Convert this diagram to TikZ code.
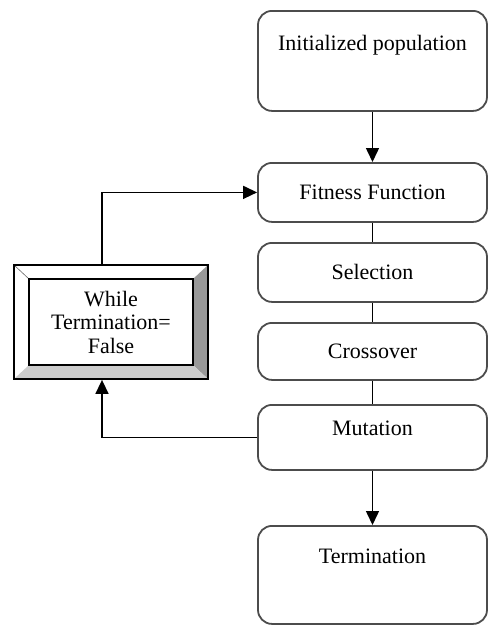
\documentclass[tikz,border=0pt]{standalone}
\usepackage{fontspec}
\setmainfont{Liberation Serif}
\usepackage{tikz}
\usetikzlibrary{arrows.meta}
\tikzset{
    step box/.style={
           rectangle,
           rounded corners=14pt,
           draw=black!70, line width=1.8pt,
           minimum width=229pt,
           minimum height=59pt,
           inner sep=0pt,
           anchor=north,
           text centered,
           },
    bevel/.style={
           rectangle,
           draw=black, line width=1.8pt,
           minimum width=194pt,
           minimum height=114pt,
           inner sep=0pt,
           align=center,
           path picture={
               % light upper and left faces, darker right and bottom faces
               \fill[gray!80]
                   (path picture bounding box.north east) --
                   (path picture bounding box.south east) --
                   ([xshift=-15pt,yshift=14pt]path picture bounding box.south east) --
                   ([xshift=-15pt,yshift=-14pt]path picture bounding box.north east) -- cycle;
               \fill[gray!40]
                   (path picture bounding box.south west) --
                   ([xshift=15pt,yshift=14pt]path picture bounding box.south west) --
                   ([xshift=-15pt,yshift=14pt]path picture bounding box.south east) --
                   (path picture bounding box.south east) -- cycle;
               \draw[black!60, line width=0.6pt]
                   (path picture bounding box.north west) --
                   ([xshift=15pt,yshift=-14pt]path picture bounding box.north west);
               \draw[line width=1.8pt]
                   ([xshift=15pt,yshift=-14pt]path picture bounding box.north west) rectangle
                   ([xshift=-15pt,yshift=14pt]path picture bounding box.south east);
           },
           },
    flow/.style={black, line width=1.5pt},
    tip/.style={-{Triangle[length=14pt,width=13pt]}},
}

\begin{document}
\begin{tikzpicture}[x=1pt, y=-1pt, font=\fontsize{22}{23.5}\selectfont]
    \useasboundingbox (0,0) rectangle (488,625);

    % Steps of the loop, top to bottom
    \node[step box,
    minimum height=0pt,
    text height=40pt, 	% text sits in the upper part
    text depth=60pt] (init) at (372.5,10)
    {Initialized population};

    \node[step box] (fitness) at (372.5,162) {Fitness Function};
    \node[step box] (select) at (372.5,242) {Selection};
    \node[step box, minimum height=57pt] (cross) at (372.5,322) {Crossover};

    \node[step box,
    minimum height=0pt,
    text height=31pt,
    text depth=34pt] (mutate) at (372.5,404)
    {Mutation};

    \node[step box,
    minimum height=0pt,
    text height=38pt,
    text depth=60pt] (term) at (372.5,525)
    {Termination};

    % Loop condition (bevelled box on the left)
    \node[bevel] (loop) at (111,322) {While\\Termination=\\False};

    % connectors
    \draw[flow, tip] (init) -- (fitness);
    \draw[flow] (fitness) -- (select);
    \draw[flow] (select) -- (cross);
    \draw[flow] (cross) -- (mutate);
    \draw[flow, tip] (mutate) -- (term);

    \draw[flow, tip] (mutate.west) -| ([xshift=-9pt]loop.south);
    \draw[flow, tip] ([xshift=-9pt]loop.north) |- (fitness.west);
\end{tikzpicture}
\end{document}
